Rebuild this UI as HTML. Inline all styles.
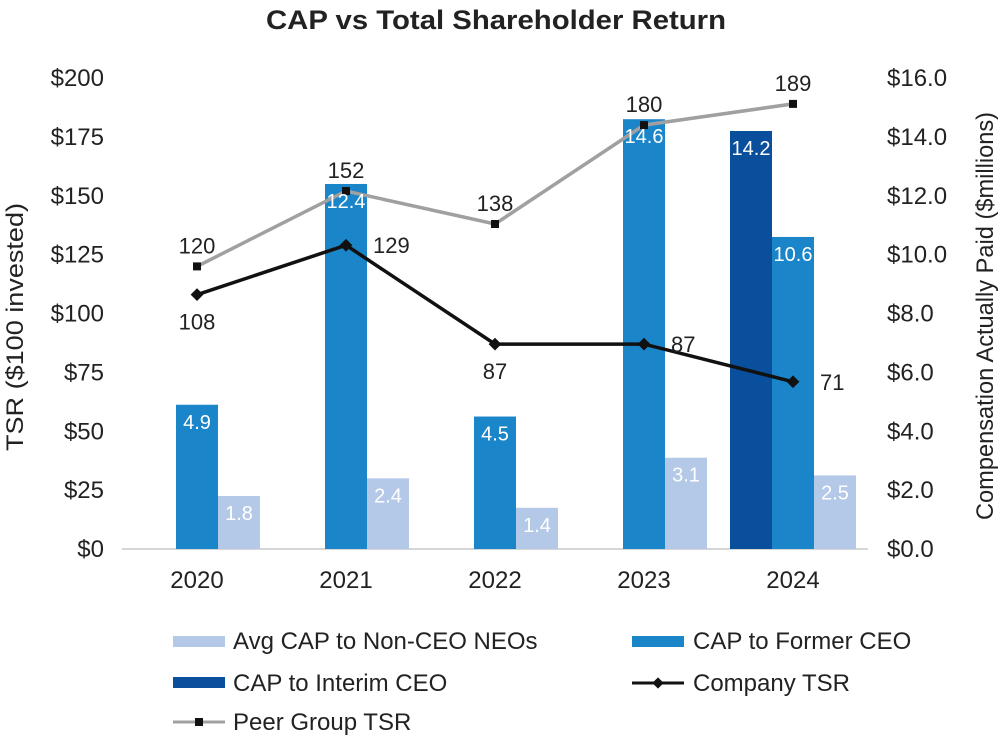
<!DOCTYPE html>
<html><head><meta charset="utf-8"><style>
body{margin:0;background:#fff;}
svg text{font-family:"Liberation Sans",Arial,sans-serif;}
</style></head><body>
<svg width="1000" height="738" viewBox="0 0 1000 738" xmlns="http://www.w3.org/2000/svg">
<text x="496" y="29" text-anchor="middle" font-size="27" font-weight="bold" fill="#222" textLength="460" lengthAdjust="spacingAndGlyphs">CAP vs Total Shareholder Return</text>
<text transform="translate(23,327) rotate(-90)" text-anchor="middle" font-size="24" fill="#222" textLength="248" lengthAdjust="spacingAndGlyphs">TSR ($100 invested)</text>
<text transform="translate(993,316) rotate(-90)" text-anchor="middle" font-size="24" fill="#222" textLength="408" lengthAdjust="spacingAndGlyphs">Compensation Actually Paid ($millions)</text>
<g id="leftTicks"></g><g id="rightTicks"></g><g id="xTicks"></g>
<line x1="122" y1="549" x2="868" y2="549" stroke="#c8c8c8" stroke-width="1.5"/>
<g id="bars"></g><g id="lines"></g><g id="labels"></g>
<g font-size="24" fill="#222">
<rect x="173" y="636" width="52" height="11" fill="#b4c8e8"/>
<text x="233" y="649">Avg CAP to Non-CEO NEOs</text>
<rect x="632" y="636" width="52" height="11" fill="#1a85c8"/>
<text x="693" y="649">CAP to Former CEO</text>
<rect x="173" y="677" width="52" height="11" fill="#0a4f9c"/>
<text x="233" y="691">CAP to Interim CEO</text>
<line x1="632" y1="683" x2="684" y2="683" stroke="#111" stroke-width="3"/>
<rect x="654" y="679" width="8" height="8" fill="#111" transform="rotate(45 658 683)"/>
<text x="693" y="691">Company TSR</text>
<line x1="173" y1="722" x2="225" y2="722" stroke="#a0a0a0" stroke-width="3"/>
<rect x="195" y="718" width="8" height="8" fill="#111"/>
<text x="233" y="730">Peer Group TSR</text>
</g>
</svg>
<script>
const years=["2020","2021","2022","2023","2024"];
const formerCEO=[4.9,12.4,4.5,14.6,10.6];
const interimCEO=[null,null,null,null,14.2];
const nonCEO=[1.8,2.4,1.4,3.1,2.5];
const companyTSR=[108,129,87,87,71];
const peerTSR=[120,152,138,180,189];
const leftTicks=["$0","$25","$50","$75","$100","$125","$150","$175","$200"];
const leftTickVals=[0,25,50,75,100,125,150,175,200];
const rightTicks=["$0.0","$2.0","$4.0","$6.0","$8.0","$10.0","$12.0","$14.0","$16.0"];
const rightTickVals=[0,2,4,6,8,10,12,14,16];
const companyLabelPos=["below","right","below","right","right"];

const NS="http://www.w3.org/2000/svg";
const yL=v=>549-v*471/200;
const yR=v=>549-v*471/16;
const xC=i=>197+i*149;
function mk(tag,attrs,parent,text){const e=document.createElementNS(NS,tag);for(const k in attrs)e.setAttribute(k,attrs[k]);if(text!=null)e.textContent=text;document.getElementById(parent).appendChild(e);return e;}

leftTicks.forEach((t,i)=>{const e=mk('text',{x:104,y:yL(leftTickVals[i])+8,'text-anchor':'end','font-size':24,fill:'#222'},'leftTicks',t);

});
rightTicks.forEach((t,i)=>{const e=mk('text',{x:887,y:yR(rightTickVals[i])+8,'font-size':24,fill:'#222'},'rightTicks',t);

});
years.forEach((t,i)=>{const e=mk('text',{x:xC(i),y:588,'text-anchor':'middle','font-size':24,fill:'#222'},'xTicks',t);

});

function bar(i,off,v,color,name,lblColor){
 if(v==null)return;
 const x=xC(i)+off, y=yR(v);
 const r=mk('rect',{x:x,y:y,width:42,height:549-y,fill:color},'bars');
 
 
 const t=mk('text',{x:x+21,y:y+24,'text-anchor':'middle','font-size':20,fill:lblColor},'labels',v.toFixed(1));
 
 
}
years.forEach((y,i)=>{
 bar(i,-63,interimCEO[i],'#0a4f9c','bar-interim-ceo','#fff');
 bar(i,-21,formerCEO[i],'#1a85c8','bar-former-ceo','#fff');
 bar(i,21,nonCEO[i],'#b4c8e8','bar-non-ceo','#fff');
});
function line(vals,color,name){
 const pts=vals.map((v,i)=>xC(i)+','+yL(v)).join(' ');
 const p=mk('polyline',{points:pts,fill:'none',stroke:color,'stroke-width':3.5},'lines');
 
 
}
line(peerTSR,'#a0a0a0','peer-tsr');
line(companyTSR,'#111','company-tsr');
peerTSR.forEach((v,i)=>{const m=mk('rect',{x:xC(i)-4,y:yL(v)-4,width:8,height:8,fill:'#111'},'lines');


const t=mk('text',{x:xC(i),y:yL(v)-13,'text-anchor':'middle','font-size':22,fill:'#222'},'labels',v);

});
companyTSR.forEach((v,i)=>{const m=mk('rect',{x:xC(i)-4.5,y:yL(v)-4.5,width:9,height:9,fill:'#111',transform:`rotate(45 ${xC(i)} ${yL(v)})`},'lines');


const below=companyLabelPos[i]==='below';
const t=mk('text',{x:below?xC(i):xC(i)+27,y:below?yL(v)+35:yL(v)+8,'text-anchor':below?'middle':'start','font-size':22,fill:'#222'},'labels',v);

});
</script>
</body></html>
